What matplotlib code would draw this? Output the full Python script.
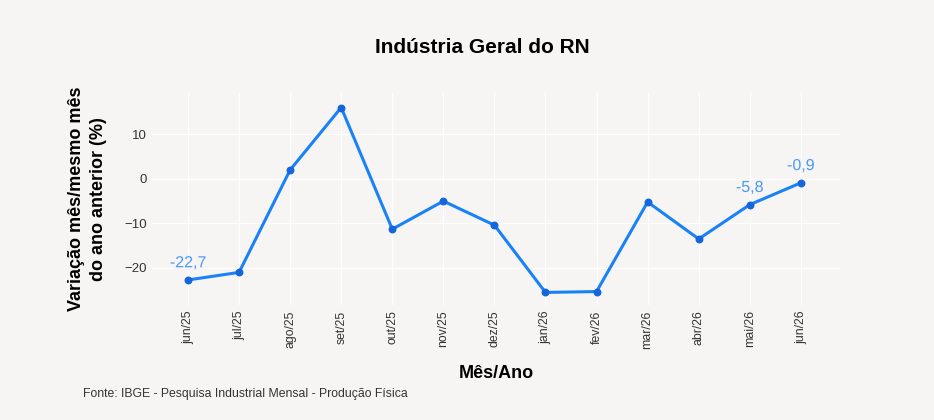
import matplotlib
matplotlib.use("Agg")
import matplotlib.pyplot as plt
import matplotlib.patheffects as pe

months = ["jun/25", "jul/25", "ago/25", "set/25", "out/25", "nov/25", "dez/25",
          "jan/26", "fev/26", "mar/26", "abr/26", "mai/26", "jun/26"]
values = [-22.7, -21.0, 2.0, 16.0, -11.3, -5.0, -10.4, -25.5, -25.3, -5.2, -13.5, -5.8, -0.9]
labeled = {0: "-22,7", 11: "-5,8", 12: "-0,9"}
yticks = [-20, -10, 0, 10]
ytick_labels = ["\u221220", "\u221210", "0", "10"]

bg = "#f6f5f3"
plt.rcParams['font.family'] = ['Liberation Sans', 'DejaVu Sans']

fig = plt.figure(figsize=(9.34, 4.2), dpi=100, facecolor=bg)
ax = fig.add_axes([0.163, 0.274, 0.736, 0.505], facecolor=bg)

x = list(range(len(months)))
ax.plot(x, values, color="#1a82f7", lw=2.2, zorder=3)
ax.scatter(x, values, color="#1566dc", s=22, zorder=4)

for i, txt in labeled.items():
    ax.annotate(txt, (x[i], values[i]), xytext=(0, 7), textcoords="offset points",
                ha="center", va="bottom", color="#4a9af5", fontsize=11.5,
                path_effects=[pe.withStroke(linewidth=3, foreground=bg)], zorder=5)

ax.set_xlim(-0.7, 12.76)
ax.set_ylim(-28.3, 19.3)
ax.set_xticks(x)
ax.set_xticklabels(months, rotation=90, fontsize=8.8, color="#333333")
ax.set_yticks(yticks)
ax.set_yticklabels(ytick_labels, fontsize=9.5, color="#333333")
ax.grid(True, color="white", lw=1.0)
ax.set_axisbelow(True)
ax.tick_params(length=0, pad=4)
for s in ax.spines.values():
    s.set_visible(False)

ax.set_xlabel("Mês/Ano", fontsize=13, fontweight="bold", labelpad=12)
ax.set_ylabel("Variação mês/mesmo mês\ndo ano anterior (%)", fontsize=13,
              fontweight="bold", labelpad=12, linespacing=1.45)
fig.text(0.516, 0.888, "Indústria Geral do RN", ha="center", va="center",
         fontsize=15, fontweight="bold")
fig.text(0.089, 0.063, "Fonte: IBGE - Pesquisa Industrial Mensal - Produção Física",
         ha="left", va="center", fontsize=8.8, color="#333333")

fig.savefig("out.png", dpi=100, facecolor=bg)
